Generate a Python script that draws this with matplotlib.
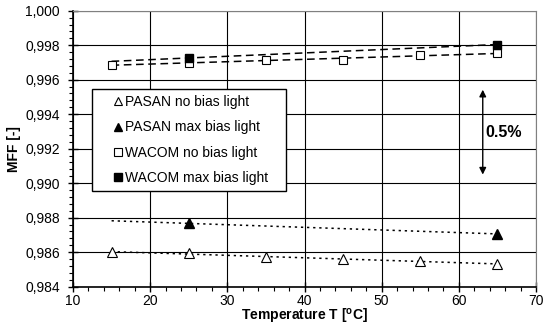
import numpy as np
import matplotlib
matplotlib.use("Agg")
import matplotlib.pyplot as plt
from matplotlib.ticker import MultipleLocator, FuncFormatter
from matplotlib.lines import Line2D
from matplotlib.legend_handler import HandlerLine2D

plt.rcParams['font.family'] = ['Liberation Sans', 'DejaVu Sans']

# ---- data ----
temp_all = [15, 25, 35, 45, 55, 65]
temp_max = [25, 65]

pasan_no_bias = [0.98599, 0.98594, 0.98574, 0.98562, 0.98547, 0.98530]
pasan_max_bias = [0.98767, 0.98706]
wacom_no_bias = [0.99686, 0.99697, 0.99713, 0.99714, 0.99746, 0.99752]
wacom_max_bias = [0.99726, 0.99804]

trend_x = [15, 65]

fig = plt.figure(figsize=(5.44, 3.25), dpi=100)
ax = fig.add_axes([73 / 544, 38.3 / 325, 463 / 544, 276 / 325])


def trend(x, y):
    k, b = np.polyfit(x, y, 1)
    xs = np.array(trend_x, dtype=float)
    return xs, k * xs + b


# trend lines
for x, y, ls in [(temp_all, wacom_no_bias, (0, (5, 3))),
                 (temp_max, wacom_max_bias, (0, (5, 3))),
                 (temp_all, pasan_no_bias, (0, (1.5, 2.5))),
                 (temp_max, pasan_max_bias, (0, (1.5, 2.5)))]:
    xs, ys = trend(x, y)
    ax.plot(xs, ys, color='black', lw=1.1, linestyle=ls, zorder=3)

ax.plot(temp_all, pasan_no_bias, '^', ms=6.5, mfc='white', mec='black', mew=0.8, zorder=4)
ax.plot(temp_max, pasan_max_bias, '^', ms=6.5, mfc='black', mec='black', zorder=4)
ax.plot(temp_all, wacom_no_bias, 's', ms=5.5, mfc='white', mec='black', mew=0.8, zorder=4)
ax.plot(temp_max, wacom_max_bias, 's', ms=5.5, mfc='black', mec='black', zorder=4)

ax.set_xlim(10, 70)
ax.set_ylim(0.984, 1.000)
ax.xaxis.set_major_locator(MultipleLocator(10))
ax.xaxis.set_minor_locator(MultipleLocator(2))
ax.yaxis.set_major_locator(MultipleLocator(0.002))
ax.yaxis.set_minor_locator(MultipleLocator(0.0004))
ax.yaxis.set_major_formatter(FuncFormatter(lambda v, p: f'{v:.3f}'.replace('.', ',')))

ax.grid(True, which='major', color='black', lw=0.8)
ax.set_axisbelow(True)
ax.tick_params(which='major', direction='inout', length=7, width=1, labelsize=10)
ax.tick_params(which='minor', direction='out', length=3, width=0.8)
ax.tick_params(axis='x', which='major', pad=2)
ax.tick_params(axis='y', which='major', pad=6)
for s in ['top', 'right']:
    ax.spines[s].set_color('#808080')
for s in ['left', 'bottom']:
    ax.spines[s].set_linewidth(1.2)

ax.set_xlabel('Temperature T [$\\mathregular{^o}$C]', fontsize=10, fontweight='bold', labelpad=-1)
ax.set_ylabel('MFF [-]', fontsize=10, fontweight='bold', labelpad=3)


class RightMarkerHandler(HandlerLine2D):
    # single marker sits near the right end of the handle, close to the text
    def get_xdata(self, legend, xdescent, ydescent, width, height, fontsize):
        x_m = -xdescent + width - 1.5
        return np.array([x_m, x_m]), np.array([x_m])


handles = [
    Line2D([], [], ls='none', marker='^', ms=6, mfc='white', mec='black', mew=0.8),
    Line2D([], [], ls='none', marker='^', ms=6, mfc='black', mec='black'),
    Line2D([], [], ls='none', marker='s', ms=5.5, mfc='white', mec='black', mew=0.8),
    Line2D([], [], ls='none', marker='s', ms=5.5, mfc='black', mec='black'),
]
labels = ['PASAN no bias light', 'PASAN max bias light',
          'WACOM no bias light', 'WACOM max bias light']
leg = ax.legend(handles, labels, loc='upper left', mode='expand',
                bbox_to_anchor=(0.041, 0.376, 0.419, 0.34), borderaxespad=0,
                fontsize=10, frameon=True, fancybox=False, framealpha=1,
                edgecolor='black', handlelength=1.6, handletextpad=0.35,
                labelspacing=0.8, borderpad=0.45,
                handler_map={Line2D: RightMarkerHandler(numpoints=1)})
leg.get_frame().set_linewidth(1.0)
leg.set_zorder(5)

ax.annotate('', xy=(63.1, 0.99542), xytext=(63.1, 0.99050),
            arrowprops=dict(arrowstyle='<|-|>', color='black', lw=1.0,
                            mutation_scale=10, shrinkA=0, shrinkB=0))
ax.text(63.5, 0.99292, '0.5%', fontsize=11.5, fontweight='bold', ha='left', va='center')

fig.savefig('out.png', dpi=100, facecolor='white')
